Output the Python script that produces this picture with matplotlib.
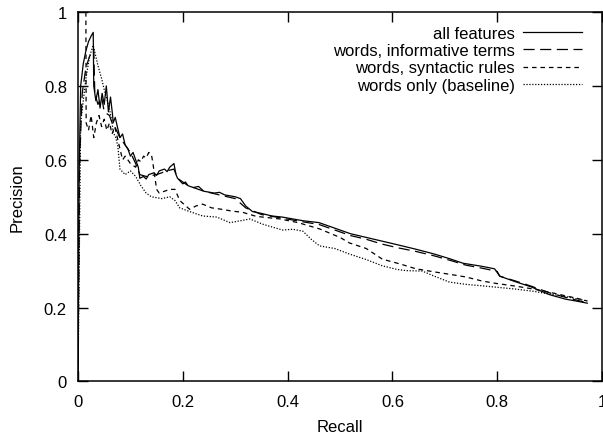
import matplotlib
matplotlib.use("Agg")
import matplotlib.pyplot as plt

plt.rcParams['font.family'] = ['Liberation Sans', 'DejaVu Sans']
plt.rcParams['lines.scale_dashes'] = False

# ---- data ----
recall_all = [0.0, 0.002, 0.005, 0.01, 0.015, 0.02, 0.025, 0.029, 0.030, 0.034, 0.038, 0.042,
              0.046, 0.050, 0.054, 0.058, 0.062, 0.066, 0.067, 0.071, 0.075, 0.080, 0.085, 0.090,
              0.095, 0.100, 0.105, 0.110, 0.115, 0.118, 0.125, 0.130, 0.135, 0.145, 0.150, 0.155,
              0.165, 0.170, 0.175, 0.183, 0.187, 0.19, 0.20, 0.205, 0.21, 0.22, 0.23, 0.24, 0.26,
              0.27, 0.28, 0.30, 0.31, 0.32, 0.333, 0.35, 0.37, 0.39, 0.41, 0.43, 0.46, 0.49, 0.52,
              0.55, 0.58, 0.61, 0.645, 0.68, 0.71, 0.735, 0.77, 0.795, 0.80, 0.805, 0.835, 0.865,
              0.90, 0.93, 0.95, 0.972]
prec_all = [0.0, 0.55, 0.80, 0.86, 0.895, 0.92, 0.935, 0.945, 0.80, 0.76, 0.79, 0.74,
            0.78, 0.75, 0.80, 0.73, 0.77, 0.72, 0.70, 0.715, 0.69, 0.66, 0.67, 0.64,
            0.63, 0.61, 0.62, 0.60, 0.58, 0.55, 0.555, 0.548, 0.56, 0.565, 0.558, 0.57,
            0.575, 0.568, 0.58, 0.59, 0.56, 0.55, 0.535, 0.54, 0.53, 0.525, 0.528, 0.515, 0.51,
            0.512, 0.505, 0.50, 0.495, 0.475, 0.46, 0.455, 0.448, 0.445, 0.44, 0.435, 0.43, 0.415,
            0.40, 0.39, 0.38, 0.37, 0.358, 0.345, 0.332, 0.32, 0.312, 0.305, 0.295, 0.285, 0.27,
            0.256, 0.235, 0.223, 0.218, 0.212]

recall_inf = [0.0, 0.003, 0.008, 0.015, 0.022, 0.03, 0.032, 0.038, 0.045, 0.05, 0.06, 0.065,
              0.07, 0.08, 0.09, 0.10, 0.11, 0.118, 0.13, 0.15, 0.17, 0.183, 0.19, 0.21, 0.24,
              0.27, 0.30, 0.32, 0.35, 0.39, 0.43, 0.46, 0.49, 0.52, 0.55, 0.58, 0.61, 0.645,
              0.68, 0.71, 0.74, 0.77, 0.80, 0.805, 0.835, 0.865, 0.90, 0.93, 0.972]
prec_inf = [0.0, 0.60, 0.78, 0.85, 0.88, 0.90, 0.78, 0.75, 0.77, 0.73, 0.72, 0.70,
            0.69, 0.66, 0.64, 0.62, 0.59, 0.56, 0.555, 0.56, 0.57, 0.575, 0.55, 0.53, 0.515,
            0.505, 0.495, 0.47, 0.452, 0.442, 0.432, 0.425, 0.41, 0.395, 0.385, 0.372, 0.362, 0.352,
            0.34, 0.328, 0.315, 0.307, 0.298, 0.285, 0.272, 0.258, 0.24, 0.228, 0.213]

recall_syn = [0.015, 0.0155, 0.02, 0.025, 0.03, 0.035, 0.04, 0.045, 0.05, 0.055, 0.06, 0.065,
              0.07, 0.075, 0.08, 0.085, 0.09, 0.10, 0.11, 0.115, 0.12, 0.125, 0.13, 0.135, 0.14,
              0.143, 0.146, 0.15, 0.155, 0.165, 0.175, 0.185, 0.194, 0.213, 0.225, 0.238, 0.255,
              0.27, 0.295, 0.314, 0.34, 0.385, 0.42, 0.461, 0.50, 0.518, 0.55, 0.581, 0.615,
              0.645, 0.683, 0.71, 0.74, 0.771, 0.80, 0.836, 0.87, 0.899, 0.93, 0.95, 0.972]
prec_syn = [1.0, 0.70, 0.68, 0.72, 0.66, 0.70, 0.72, 0.69, 0.71, 0.68, 0.70, 0.67,
            0.69, 0.66, 0.63, 0.60, 0.61, 0.59, 0.58, 0.60, 0.595, 0.61, 0.605, 0.62, 0.615,
            0.59, 0.56, 0.52, 0.51, 0.515, 0.52, 0.52, 0.49, 0.466, 0.475, 0.48, 0.47,
            0.467, 0.461, 0.458, 0.447, 0.44, 0.43, 0.413, 0.39, 0.375, 0.36, 0.331, 0.318,
            0.305, 0.296, 0.29, 0.283, 0.272, 0.265, 0.258, 0.25, 0.242, 0.232, 0.226, 0.218]

recall_base = [0.0, 0.005, 0.015, 0.022, 0.029, 0.038, 0.045, 0.05, 0.055, 0.06, 0.065, 0.067,
               0.072, 0.076, 0.08, 0.09, 0.10, 0.11, 0.12, 0.13, 0.14, 0.16, 0.175, 0.185,
               0.194, 0.213, 0.238, 0.265, 0.29, 0.31, 0.328, 0.352, 0.39, 0.41, 0.429, 0.445,
               0.461, 0.49, 0.518, 0.55, 0.581, 0.61, 0.627, 0.657, 0.68, 0.709, 0.74, 0.771,
               0.80, 0.836, 0.87, 0.899, 0.93, 0.972]
prec_base = [0.0, 0.70, 0.82, 0.88, 0.91, 0.855, 0.82, 0.79, 0.765, 0.737, 0.70, 0.675,
             0.66, 0.637, 0.575, 0.56, 0.57, 0.555, 0.53, 0.51, 0.50, 0.495, 0.50, 0.49,
             0.47, 0.46, 0.448, 0.445, 0.43, 0.435, 0.44, 0.426, 0.41, 0.412, 0.407, 0.385,
             0.367, 0.36, 0.345, 0.33, 0.313, 0.303, 0.30, 0.299, 0.285, 0.269, 0.263, 0.259,
             0.255, 0.25, 0.244, 0.237, 0.23, 0.218]

labels = ["all features", "words, informative terms", "words, syntactic rules",
          "words only (baseline)"]
ticks = [0, 0.2, 0.4, 0.6, 0.8, 1]
tick_labels = ["0", "0.2", "0.4", "0.6", "0.8", "1"]

# ---- figure ----
fs = 12
fig = plt.figure(figsize=(6.03, 4.35), dpi=100)
ax = fig.add_axes([0.1294, 0.1207, 0.8689, 0.8493])

lw = 0.9
ax.plot(recall_all, prec_all, color='black', lw=lw, linestyle='-', label=labels[0])
ax.plot(recall_inf, prec_inf, color='black', lw=lw, linestyle=(0, (8, 4)), label=labels[1])
ax.plot(recall_syn, prec_syn, color='black', lw=lw, linestyle=(0, (3.3, 2.8)), label=labels[2])
ax.plot(recall_base, prec_base, color='black', lw=lw, linestyle=(0, (0.9, 1.2)), label=labels[3])

ax.set_xlim(0, 1)
ax.set_ylim(0, 1)
ax.set_xticks(ticks)
ax.set_xticklabels(tick_labels)
ax.set_yticks(ticks)
ax.set_yticklabels(tick_labels)
ax.tick_params(direction='in', length=7, width=1, top=True, right=True,
               labelsize=fs, colors='black')
ax.tick_params(axis='x', pad=9)
ax.tick_params(axis='y', pad=8)
for s in ax.spines.values():
    s.set_linewidth(1.1)

ax.set_xlabel("Recall", fontsize=fs, labelpad=7)
ax.set_ylabel("Precision", fontsize=fs, labelpad=14)

leg = ax.legend(loc='upper right', bbox_to_anchor=(0.962, 0.963), frameon=False,
                markerfirst=False, fontsize=fs, handlelength=3.55, handletextpad=0.48,
                labelspacing=0.14, borderaxespad=0, borderpad=0)

fig.savefig("out.png", dpi=100)
